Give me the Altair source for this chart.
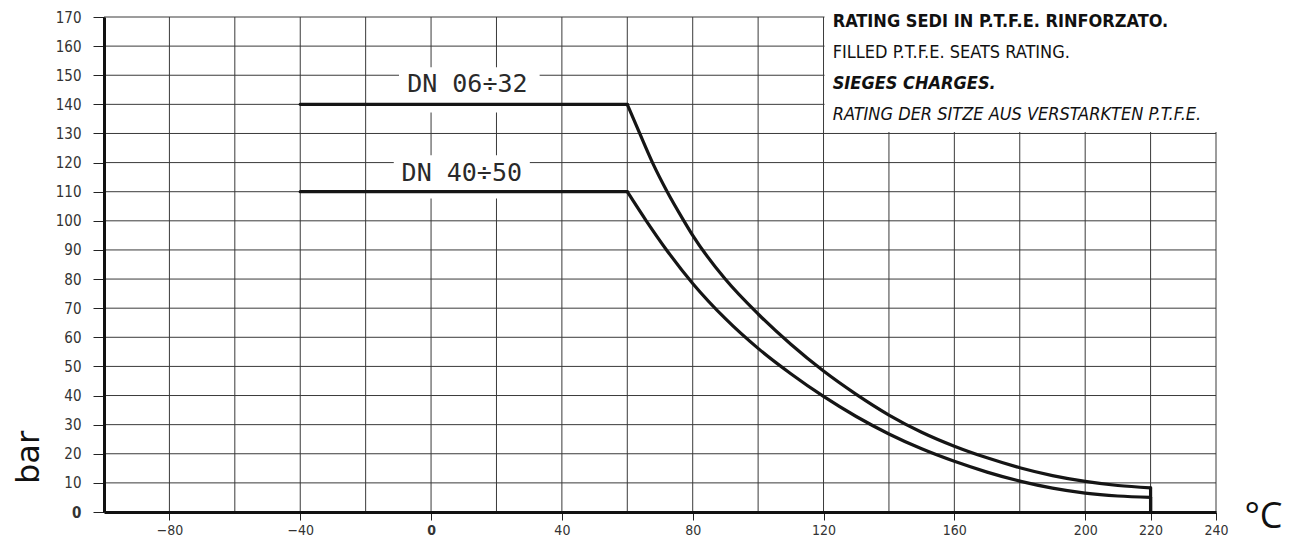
import altair as alt
import pandas as pd

# ---------------- data ----------------
series_names = ["DN 06÷32", "DN 40÷50"]

# DN 06÷32 rating curve (temperature °C, pressure bar)
dn0632_temp = [-40, 60, 63.8, 67.7, 72.2, 77.3, 80, 90, 100, 110, 120, 130, 140, 150, 160,
               170, 180, 190, 200, 210, 220, 220]
dn0632_bar = [140, 140, 130, 120, 110, 100, 95.0, 79.9, 68.0, 57.6, 48.4, 40.4, 33.3, 27.4, 22.6,
              18.6, 15.2, 12.5, 10.5, 9.1, 8.3, 0]

# DN 40÷50 rating curve
dn4050_temp = [-40, 60, 65.8, 72.0, 80, 90, 100, 110, 120, 130, 140, 150, 160,
               170, 180, 190, 200, 210, 220, 220]
dn4050_bar = [110, 110, 100, 90, 78.5, 66.4, 56.2, 47.5, 39.7, 32.8, 26.8, 21.7, 17.4,
              13.7, 10.6, 8.2, 6.5, 5.5, 5.0, 0]

x_grid = [-100, -80, -60, -40, -20, 0, 20, 40, 60, 80, 100, 120, 140, 160, 180, 200, 220, 240]
y_grid = [0, 10, 20, 30, 40, 50, 60, 70, 80, 90, 100, 110, 120, 130, 140, 150, 160, 170]
x_tick_labels = [-80, -40, 0, 40, 80, 120, 160, 200, 220, 240]
y_tick_labels = y_grid

legend_lines = [
    "RATING SEDI IN P.T.F.E. RINFORZATO.",
    "FILLED P.T.F.E. SEATS RATING.",
    "SIEGES CHARGES.",
    "RATING DER SITZE AUS VERSTARKTEN P.T.F.E.",
]

# ---------------- build tables ----------------
rows_lin, rows_curve = [], []
for name, temps, bars in [(series_names[0], dn0632_temp, dn0632_bar),
                          (series_names[1], dn4050_temp, dn4050_bar)]:
    n = len(temps)
    for i in range(n):
        if i <= 1:
            rows_lin.append({"seg": name + " flat", "o": i, "x": temps[i], "y": bars[i]})
        if 1 <= i <= n - 2:
            rows_curve.append({"seg": name, "o": i, "x": temps[i], "y": bars[i]})
        if i >= n - 2:
            rows_lin.append({"seg": name + " drop", "o": i, "x": temps[i], "y": bars[i]})
lin_df = pd.DataFrame(rows_lin)
curve_df = pd.DataFrame(rows_curve)

gx_df = pd.DataFrame({"x": x_grid})
gy_df = pd.DataFrame({"y": y_grid})

LABEL_FONT = "Liberation Sans Narrow, DejaVu Sans Condensed, sans-serif"
zero_bold = {"condition": {"test": "datum.value === 0", "value": "bold"}, "value": "normal"}

x_scale = alt.Scale(domain=[-100, 240], nice=False, zero=False)
y_scale = alt.Scale(domain=[0, 170], nice=False, zero=False)

x_axis = alt.Axis(
    values=x_tick_labels, grid=False, zindex=1,
    domainColor="#111", domainWidth=3,
    tickColor="#222", tickWidth=1, tickSize=8,
    labelFont=LABEL_FONT, labelFontSize=14, labelColor="#333", labelPadding=3,
    labelFontWeight=zero_bold, labelFlush=False, labelOverlap=False,
    title="°C", titleFont="Open Sans", titleFontSize=36, titleFontWeight="normal",
    titleColor="#111", titleX=1159, titleY=15, titleAlign="center",
    titleBaseline="alphabetic",
)
y_axis = alt.Axis(
    values=y_tick_labels, grid=False, zindex=1,
    domainColor="#111", domainWidth=3,
    tickColor="#222", tickWidth=1, tickSize=11,
    labelFont=LABEL_FONT, labelFontSize=15, labelColor="#333", labelPadding=12,
    labelFontWeight=zero_bold, labelFlush=False, labelOverlap=False,
    title="bar", titleFont="DejaVu Sans", titleFontSize=32, titleFontWeight="normal",
    titleColor="#111", titleAngle=270, titleX=-66, titleY=440, titleAlign="center",
    titleBaseline="alphabetic",
)

X = alt.X("x:Q", scale=x_scale, axis=x_axis)
Y = alt.Y("y:Q", scale=y_scale, axis=y_axis)

grid_v = alt.Chart(gx_df).mark_rule(color="#3a3a3a", strokeWidth=1).encode(x=X)
grid_h = alt.Chart(gy_df).mark_rule(color="#3a3a3a", strokeWidth=1).encode(y=Y)

# white backgrounds (legend block and curve labels)
box_df = pd.DataFrame({
    "x": [120.3, -9.8, -11.4],
    "x2": [262, 33.2, 30.2],
    "y": [130.5, 137.2, 107.7],
    "y2": [182, 152.7, 122.5],
})
boxes = alt.Chart(box_df).mark_rect(color="white").encode(
    x=X, x2="x2:Q", y=Y, y2="y2:Q")

lines_lin = alt.Chart(lin_df).mark_line(
    color="#151515", strokeWidth=3.2, strokeCap="round", strokeJoin="miter"
).encode(x=X, y=Y, detail="seg:N", order="o:Q")
lines_curve = alt.Chart(curve_df).mark_line(
    color="#151515", strokeWidth=3.2, strokeCap="round", interpolate="monotone"
).encode(x=X, y=Y, detail="seg:N", order="o:Q")

dn_df = pd.DataFrame({"x": [11.1, 9.4], "y": [144.4, 113.7], "label": series_names})
dn_text = alt.Chart(dn_df).mark_text(
    font="DejaVu Sans Mono", fontSize=25, color="#2a2a2a", align="center",
    baseline="alphabetic"
).encode(x=X, y=Y, text="label:N")

leg_y = [168.3, 157.6, 147.0, 136.4]
leg_styles = [("bold", "normal"), ("normal", "normal"), ("bold", "italic"), ("normal", "italic")]
leg_layers = []
for txt, yy, (fw, fs) in zip(legend_lines, leg_y, leg_styles):
    d = pd.DataFrame({"x": [122.8], "y": [yy], "label": [txt]})
    leg_layers.append(
        alt.Chart(d).mark_text(
            font=LABEL_FONT, fontSize=18, fontWeight=fw, fontStyle=fs,
            color="#111", align="left", baseline="middle"
        ).encode(x=X, y=Y, text="label:N")
    )

chart = alt.layer(
    grid_v, grid_h, boxes, lines_lin, lines_curve, dn_text, *leg_layers
).properties(
    width=1112, height=495,
    autosize=alt.AutoSizeParams(type="none"),
    padding={"left": 96, "top": 9, "right": 70, "bottom": 28},
    background="white",
).configure_view(stroke=None)

chart.save("out.html", embed_options={"renderer": "svg", "actions": False})
